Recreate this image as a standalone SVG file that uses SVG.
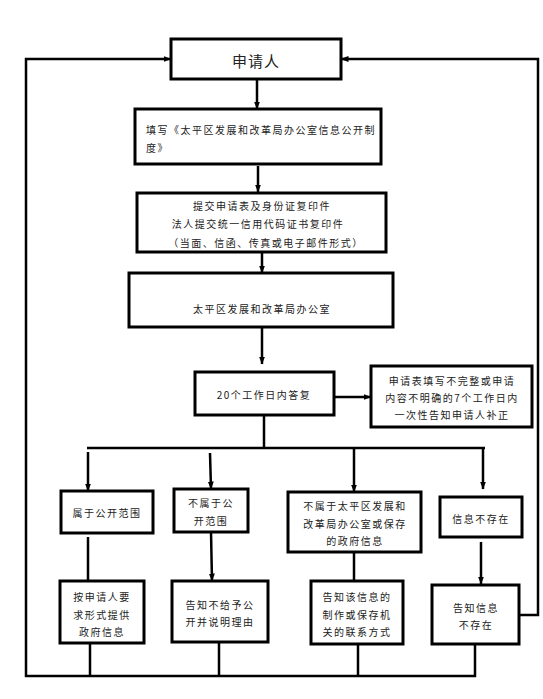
<svg xmlns="http://www.w3.org/2000/svg" width="543" height="699" viewBox="0 0 543 699">
<style>
.box{fill:#fff;stroke:#000;stroke-width:3}
.ln{fill:none;stroke:#000;stroke-width:2.5}
.t{font-family:"Noto Sans CJK SC","Noto Sans",sans-serif;font-size:10px;letter-spacing:1.5px;fill:#222;text-anchor:middle;dominant-baseline:central}
.tl{text-anchor:start}
.big{font-size:15px;letter-spacing:1px}
</style>
<defs>
<marker id="ah" markerUnits="userSpaceOnUse" markerWidth="8" markerHeight="8" viewBox="0 0 8 8" refX="7.5" refY="4" orient="auto">
<path d="M0,1 L8,4 L0,7 Z" fill="#000"/>
</marker>
</defs>
<rect width="543" height="699" fill="#fff"/>
<g id="connectors">
<line class="ln" x1="257" y1="79" x2="257" y2="109" marker-end="url(#ah)"/>
<line class="ln" x1="258" y1="166" x2="258" y2="192" marker-end="url(#ah)"/>
<line class="ln" x1="262" y1="252" x2="262" y2="273" marker-end="url(#ah)"/>
<line class="ln" x1="262" y1="327" x2="262" y2="364" marker-end="url(#ah)"/>
<line class="ln" x1="334" y1="397" x2="371" y2="397" marker-end="url(#ah)"/>
<line class="ln" x1="264" y1="415" x2="264" y2="448"/>
<line class="ln" x1="87" y1="448" x2="485" y2="448"/>
<line class="ln" x1="88" y1="452" x2="88" y2="491" marker-end="url(#ah)"/>
<line class="ln" x1="210" y1="453" x2="211" y2="489" marker-end="url(#ah)"/>
<line class="ln" x1="354" y1="448" x2="354" y2="492" marker-end="url(#ah)"/>
<line class="ln" x1="483" y1="448" x2="483" y2="489" marker-end="url(#ah)"/>
<line class="ln" x1="88" y1="537" x2="88" y2="589" marker-end="url(#ah)"/>
<line class="ln" x1="211" y1="532" x2="212" y2="581" marker-end="url(#ah)"/>
<line class="ln" x1="354" y1="552" x2="354" y2="602" marker-end="url(#ah)"/>
<line class="ln" x1="481" y1="542" x2="481" y2="584" marker-end="url(#ah)"/>
<polyline class="ln" points="90,643 90,676"/>
<polyline class="ln" points="219,642 219,676"/>
<polyline class="ln" points="358,644 358,676"/>
<polyline class="ln" points="475,644 475,676 26,676 26,59 171,59" marker-end="url(#ah)"/>
<polyline class="ln" points="519,615 538,615 538,59 341,59" marker-end="url(#ah)"/>
</g>
<g id="n1"><rect class="box" x="171" y="39" width="170" height="40"/><text class="t big" x="256" y="60">申请人</text></g>
<g id="n2"><rect class="box" x="135" y="109" width="246" height="55"/>
<text class="t tl" x="146" y="129">填写《太平区发展和改革局办公室信息公开制</text>
<text class="t tl" x="146" y="147">度》</text></g>
<g id="n3"><rect class="box" x="137" y="193" width="249" height="59"/>
<text class="t" x="262" y="205">提交申请表及身份证复印件</text>
<text class="t" x="258" y="223">法人提交统一信用代码证书复印件</text>
<text class="t" x="266" y="242">（当面、信函、传真或电子邮件形式）</text></g>
<g id="n4"><rect class="box" x="129" y="273" width="264" height="54"/>
<text class="t" x="262" y="308">太平区发展和改革局办公室</text></g>
<g id="n5"><rect class="box" x="195" y="372" width="139" height="43"/>
<text class="t" x="264" y="394">20个工作日内答复</text></g>
<g id="n6"><rect class="box" x="371" y="366" width="161" height="61"/>
<text class="t" x="452" y="380">申请表填写不完整或申请</text>
<text class="t" x="452" y="397">内容不明确的7个工作日内</text>
<text class="t" x="452" y="414">一次性告知申请人补正</text></g>
<g id="n7"><rect class="box" x="61" y="491" width="92" height="42"/>
<text class="t" x="107" y="512">属于公开范围</text></g>
<g id="n8"><rect class="box" x="174" y="489" width="74" height="43"/>
<text class="t" x="211" y="502">不属于公</text>
<text class="t" x="211" y="520">开范围</text></g>
<g id="n9"><rect class="box" x="288" y="492" width="133" height="60"/>
<text class="t" x="355" y="505">不属于太平区发展和</text>
<text class="t" x="355" y="523">改革局办公室或保存</text>
<text class="t" x="355" y="540">的政府信息</text></g>
<g id="n10"><rect class="box" x="440" y="497" width="82" height="40"/>
<text class="t" x="481" y="518">信息不存在</text></g>
<g id="n11"><rect class="box" x="60" y="581" width="84" height="62"/>
<text class="t" x="102" y="596">按申请人要</text>
<text class="t" x="102" y="614">求形式提供</text>
<text class="t" x="102" y="631">政府信息</text></g>
<g id="n12"><rect class="box" x="172" y="581" width="96" height="61"/>
<text class="t" x="220" y="604">告知不给予公</text>
<text class="t" x="220" y="621">开并说明理由</text></g>
<g id="n13"><rect class="box" x="311" y="581" width="92" height="63"/>
<text class="t" x="357" y="596">告知该信息的</text>
<text class="t" x="357" y="614">制作或保存机</text>
<text class="t" x="357" y="631">关的联系方式</text></g>
<g id="n14"><rect class="box" x="432" y="585" width="87" height="59"/>
<text class="t" x="476" y="607">告知信息</text>
<text class="t" x="476" y="624">不存在</text></g>
</svg>
